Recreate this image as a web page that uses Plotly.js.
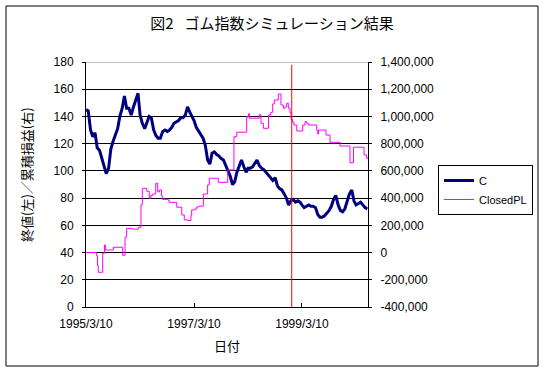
<!DOCTYPE html>
<html>
<head>
<meta charset="utf-8">
<script src="https://cdn.plot.ly/plotly-3.0.1.min.js"></script>
<style>html,body{margin:0;padding:0;background:#fff;}#chart{width:544px;height:372px;}</style>
</head>
<body>
<div id="chart"></div>
<script>
// 終値 C (semi-monthly readings)
const cDates = [
'1995-03-10','1995-03-25','1995-04-10','1995-04-25','1995-05-10','1995-05-25','1995-06-10','1995-06-25','1995-07-10','1995-07-25','1995-08-10','1995-08-25','1995-09-10','1995-09-25','1995-10-10','1995-10-25','1995-11-10','1995-11-25','1995-12-10','1995-12-25',
'1996-01-10','1996-01-25','1996-02-10','1996-02-25','1996-03-10','1996-03-25','1996-04-10','1996-04-25','1996-05-10','1996-05-25','1996-06-10','1996-06-25','1996-07-10','1996-07-25','1996-08-10','1996-08-25','1996-09-10','1996-09-25','1996-10-10','1996-10-25','1996-11-10','1996-11-25','1996-12-10','1996-12-25',
'1997-01-10','1997-01-25','1997-02-10','1997-02-25','1997-03-10','1997-03-25','1997-04-10','1997-04-25','1997-05-10','1997-05-25','1997-06-10','1997-06-25','1997-07-10','1997-07-25','1997-08-10','1997-08-25','1997-09-10','1997-09-25','1997-10-10','1997-10-25','1997-11-10','1997-11-25','1997-12-10','1997-12-25',
'1998-01-10','1998-01-25','1998-02-10','1998-02-25','1998-03-10','1998-03-25','1998-04-10','1998-04-25','1998-05-10','1998-05-25','1998-06-10','1998-06-25','1998-07-10','1998-07-25','1998-08-10','1998-08-25','1998-09-10','1998-09-25','1998-10-10','1998-10-25','1998-11-10','1998-11-25','1998-12-10','1998-12-25',
'1999-01-10','1999-01-25','1999-02-10','1999-02-25','1999-03-10','1999-03-25','1999-04-10','1999-04-25','1999-05-10','1999-05-25','1999-06-10','1999-06-25','1999-07-10','1999-07-25','1999-08-10','1999-08-25','1999-09-10','1999-09-25','1999-10-10','1999-10-25','1999-11-10','1999-11-25','1999-12-10','1999-12-25',
'2000-01-10','2000-01-25','2000-02-10','2000-02-25','2000-03-10','2000-03-25','2000-04-10','2000-04-25','2000-05-10','2000-05-25'
];
const cValues = [
145,144,130,125,128,117,115,109,104,98,102,116,122,126,131,140,146,155,146,146,
141,147,153,157,141,135,131,135,140,139,130,126,124,124,129,130,129,130,132,135,136,137,139,139,
141,147,143,140,137,132,129,127,124,119,108,105,113,114,112,111,109,108,104,101,96,90,92,99,
104,108,103,99,102,102,103,106,108,104,102,101,99,97,95,93,95,89,87,86,83,80,75,78,
79,77,78,77,75,73,74,75,74,74,73,68,66,66,67,69,71,74,79,82,75,71,70,72,
77,83,86,78,75,76,77,75,73,72
];

// 累積損益 ClosedPL (step changes)
const plDates = [
'1995-03-10','1995-05-21','1995-05-27','1995-06-01','1995-07-01','1995-07-13','1995-07-19','1995-09-11','1995-11-13','1995-11-29','1995-12-10',
'1996-01-17','1996-02-27','1996-03-16','1996-03-25','1996-04-24','1996-05-11','1996-05-21','1996-06-03','1996-06-24','1996-07-07','1996-07-19','1996-08-02','1996-08-07','1996-09-17','1996-09-24','1996-11-13','1996-12-17',
'1997-01-03','1997-01-26','1997-02-17','1997-02-22','1997-03-16','1997-03-28','1997-04-13','1997-05-12','1997-06-10','1997-06-21','1997-08-21','1997-10-24','1997-12-05','1997-12-24',
'1998-03-01','1998-03-13','1998-03-20','1998-05-26','1998-06-06','1998-06-22','1998-07-27','1998-08-11','1998-08-24','1998-09-04','1998-10-01','1998-10-19','1998-11-04','1998-11-15','1998-11-27','1998-12-08','1998-12-19','1998-12-26',
'1999-01-06','1999-01-15','1999-02-03','1999-03-15','1999-03-31','1999-04-11','1999-04-22','1999-06-18','1999-06-25','1999-06-30','1999-08-20','1999-09-16','1999-11-23',
'2000-01-29','2000-02-22','2000-05-03','2000-05-21','2000-05-30'
];
const plValues = [
0,-23000,-96000,-145000,-5000,56000,19000,39000,-20000,112000,178000,
172000,186000,350000,472000,450000,399000,420000,430000,509000,446000,460000,420000,391000,380000,369000,333000,276000,
240000,235000,271000,313000,320000,335000,341000,430000,497000,546000,516000,607000,851000,884000,
998000,1020000,987000,1013000,950000,913000,1011000,1030000,1092000,1121000,1165000,1084000,1060000,1070000,1097000,1060000,1028000,979000,
957000,937000,893000,937000,962000,950000,937000,900000,871000,900000,863000,810000,783000,
660000,774000,717000,693000,693000
];

const xTickVals = ['1995-03-10','1997-03-10','1999-03-10'];
const xTickText = ['1995/3/10','1997/3/10','1999/3/10'];
const yTickVals = [0,20,40,60,80,100,120,140,160,180];
const y2TickVals = [-400000,-200000,0,200000,400000,600000,800000,1000000,1200000,1400000];
const y2TickText = ['-400,000','-200,000','0','200,000','400,000','600,000','800,000','1,000,000','1,200,000','1,400,000'];
const splitDate = '1998-12-31';

const FONT = "'Liberation Sans', 'Noto Sans CJK JP', sans-serif";
const JFONT = "'Noto Sans CJK JP', 'Liberation Sans', sans-serif";

const traces = [
  {x: cDates, y: cValues, name: 'C', type: 'scatter', mode: 'lines',
   line: {color: '#000080', width: 3}, yaxis: 'y'},
  {x: plDates, y: plValues, name: 'ClosedPL', type: 'scatter', mode: 'lines',
   line: {color: '#FF00FF', width: 1, shape: 'hv'}, yaxis: 'y2'}
];

const layout = {
  width: 544, height: 372,
  margin: {l: 86, r: 176, t: 62, b: 65, pad: 0, autoexpand: false},
  paper_bgcolor: '#fff', plot_bgcolor: '#fff',
  font: {family: FONT, size: 12, color: '#000'},
  showlegend: true,
  title: {text: '図2\u2002 ゴム指数シミュレーション結果', font: {family: JFONT, size: 15, color: '#000'},
          x: 0.5, xanchor: 'center', xref: 'container', y: 1 - 24/372, yanchor: 'middle', yref: 'container'},
  xaxis: {type: 'date', range: ['1995-03-10', '2000-05-30'], automargin: false,
          tickmode: 'array', tickvals: xTickVals, ticktext: xTickText,
          ticks: 'inside', ticklen: 4, tickcolor: '#000', tickwidth: 1,
          showline: true, linecolor: '#000', linewidth: 1, showgrid: false, zeroline: false,
          ticklabelstandoff: 6, tickfont: {size: 12}},
  yaxis: {range: [0, 180], tickmode: 'array', tickvals: yTickVals, automargin: false,
          showgrid: true, gridcolor: '#000', gridwidth: 1,
          showline: true, linecolor: '#000', linewidth: 1, zeroline: false,
          ticks: 'outside', ticklen: 3, tickcolor: '#000', ticklabelstandoff: 6, tickfont: {size: 12}},
  yaxis2: {overlaying: 'y', side: 'right', range: [-400000, 1400000], automargin: false,
           tickmode: 'array', tickvals: y2TickVals, ticktext: y2TickText,
           showgrid: false, showline: true, linecolor: '#000', linewidth: 1, zeroline: false,
           ticks: 'outside', ticklen: 3, tickcolor: '#000', ticklabelstandoff: 6, tickfont: {size: 12}},
  legend: {xref: 'container', yref: 'container', x: 438 / 544, y: 1 - 165 / 372, xanchor: 'left', yanchor: 'top',
           bordercolor: '#000', borderwidth: 1, bgcolor: '#fff', font: {size: 11},
           tracegroupgap: 0},
  annotations: [
    {text: '終値(左)／累積損益(右)', xref: 'paper', yref: 'paper', x: (26 - 86) / 282, y: (307 - 175) / 245,
     xanchor: 'center', yanchor: 'middle', textangle: -90, showarrow: false,
     font: {family: JFONT, size: 13, color: '#000'}},
    {text: '日付', xref: 'paper', yref: 'paper', x: 0.5, y: (307 - 345) / 245,
     xanchor: 'center', yanchor: 'middle', showarrow: false,
     font: {family: JFONT, size: 13, color: '#000'}}
  ],
  shapes: [
    {type: 'rect', xref: 'paper', yref: 'paper', x0: (6 - 86) / 282, x1: (538 - 86) / 282,
     y0: (307 - 366) / 245, y1: (307 - 6) / 245, line: {color: '#000', width: 1}, fillcolor: 'rgba(0,0,0,0)', layer: 'below'},
    {type: 'line', xref: 'paper', yref: 'y', x0: 0, x1: 1, y0: 180, y1: 180,
     line: {color: '#808080', width: 1}},
    {type: 'line', xref: 'x', yref: 'y', x0: splitDate, x1: splitDate, y0: 0, y1: 178,
     line: {color: '#FF0000', width: 1}}
  ]
};

Plotly.newPlot('chart', traces, layout, {staticPlot: true, displayModeBar: false});
</script>
</body>
</html>
